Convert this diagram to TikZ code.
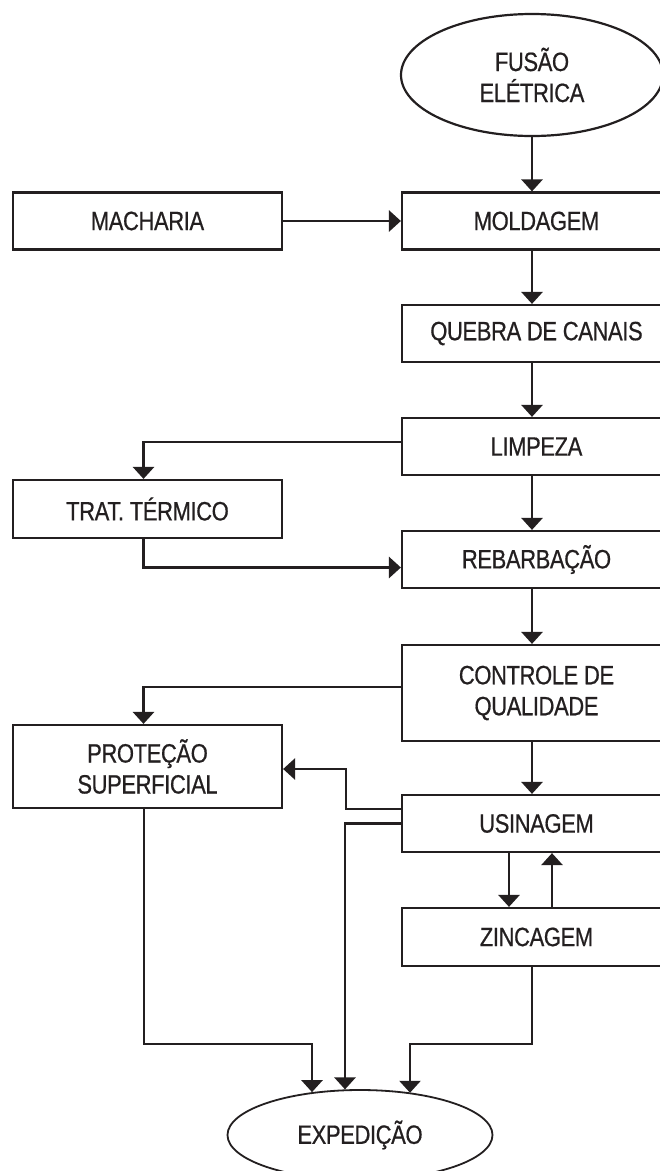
\documentclass[tikz,border=0pt]{standalone}
\usepackage{fontspec}
\setmainfont{Liberation Sans}[FakeStretch=0.83,FakeBold=0.6,LetterSpace=-1.5]
\usetikzlibrary{arrows.meta,shapes.geometric,calc}
\definecolor{ink}{RGB}{35,31,32}
\begin{document}
\begin{tikzpicture}[x=1pt,y=-1pt,
  lbl/.style={text=ink, align=center, font=\fontsize{26.5pt}{31pt}\selectfont},
  box/.style={lbl, draw=ink, line width=2.2pt, rectangle, minimum width=269pt, inner sep=0pt},
  oval/.style={lbl, draw=ink, line width=2.2pt, ellipse, inner sep=0pt},
  conn/.style={draw=ink, line width=2.8pt},
  arr/.style={conn, -{Triangle[width=21pt,length=12pt]}}]
\useasboundingbox (0,0) rectangle (660,1171);
\clip (0,0) rectangle (660,1171);
\fill[white] (0,0) rectangle (660,1171);

% nodes
\node[oval, minimum width=262pt, minimum height=122pt] (fus) at (532,75) {FUSÃO\\ELÉTRICA};
\node[box, minimum height=57pt] (mach) at (147.5,221) {MACHARIA};
\node[box, minimum height=57pt] (mold) at (536.5,221) {MOLDAGEM};
\node[box, minimum height=57pt] (queb) at (536.5,333.5) {QUEBRA DE CANAIS};
\node[box, minimum height=57pt] (limp) at (536.5,446.5) {LIMPEZA};
\node[box, minimum height=58pt] (trat) at (147.5,509) {TRAT. TÉRMICO};
\node[box, minimum height=57pt] (rebar) at (536.5,559.5) {REBARBAÇÃO};
\node[box, minimum height=96pt] (ctrl) at (536.5,693) {CONTROLE DE\\QUALIDADE};
\node[box, minimum height=83pt] (prot) at (147.5,766.5) {PROTEÇÃO\\SUPERFICIAL};
\node[box, minimum height=57pt] (usin) at (536.5,823.5) {USINAGEM};
\node[box, minimum height=58pt] (zinc) at (536.5,937) {ZINCAGEM};
\node[oval, line width=1.8pt, minimum width=265pt, minimum height=90pt] (exp) at (360,1135) {EXPEDIÇÃO};

% bend points
\coordinate (k1) at (346,769);
\coordinate (k2) at (312,1044);
\coordinate (k3) at (410,1044);
\coordinate (k4) at (345,823.5);

% main column
\draw[arr] (fus.south) -- (fus.south |- mold.north);
\draw[arr] (mold.south -| fus.south) -- (queb.north -| fus.south);
\draw[arr] (queb.south -| fus.south) -- (limp.north -| fus.south);
\draw[arr] (limp.south -| fus.south) -- (rebar.north -| fus.south);
\draw[arr] (rebar.south -| fus.south) -- (ctrl.north -| fus.south);
\draw[arr] (ctrl.south -| fus.south) -- (usin.north -| fus.south);

% side branches
\draw[arr] (mach.east) -- (mold.west);
\draw[arr] ([yshift=4.5pt]limp.west) -| ([xshift=-4pt]trat.north);
\draw[arr] ([xshift=-4pt]trat.south) |- ([yshift=-8pt]rebar.west);
\draw[arr] ([yshift=6pt]ctrl.west) -| ([xshift=-4pt]prot.north);
\draw[arr] ([yshift=14.5pt]usin.west) -| (k1) -- (k1 -| prot.east);

% usinagem <-> zincagem
\draw[arr] ([xshift=-27.5pt]usin.south) -- ([xshift=-27.5pt]zinc.north);
\draw[arr] ([xshift=15.5pt]zinc.north) -- ([xshift=15.5pt]usin.south);

% to expedicao
\draw[arr] ([xshift=-3.5pt]prot.south) |- (k2) -- (k2 |- exp.138.9);
\draw[arr] (usin.west) -- (k4) -- (k4 |- exp.108.5);
\draw[arr] (zinc.south -| fus.south) |- (k3) -- (k3 |- exp.39.8);
\end{tikzpicture}
\end{document}
